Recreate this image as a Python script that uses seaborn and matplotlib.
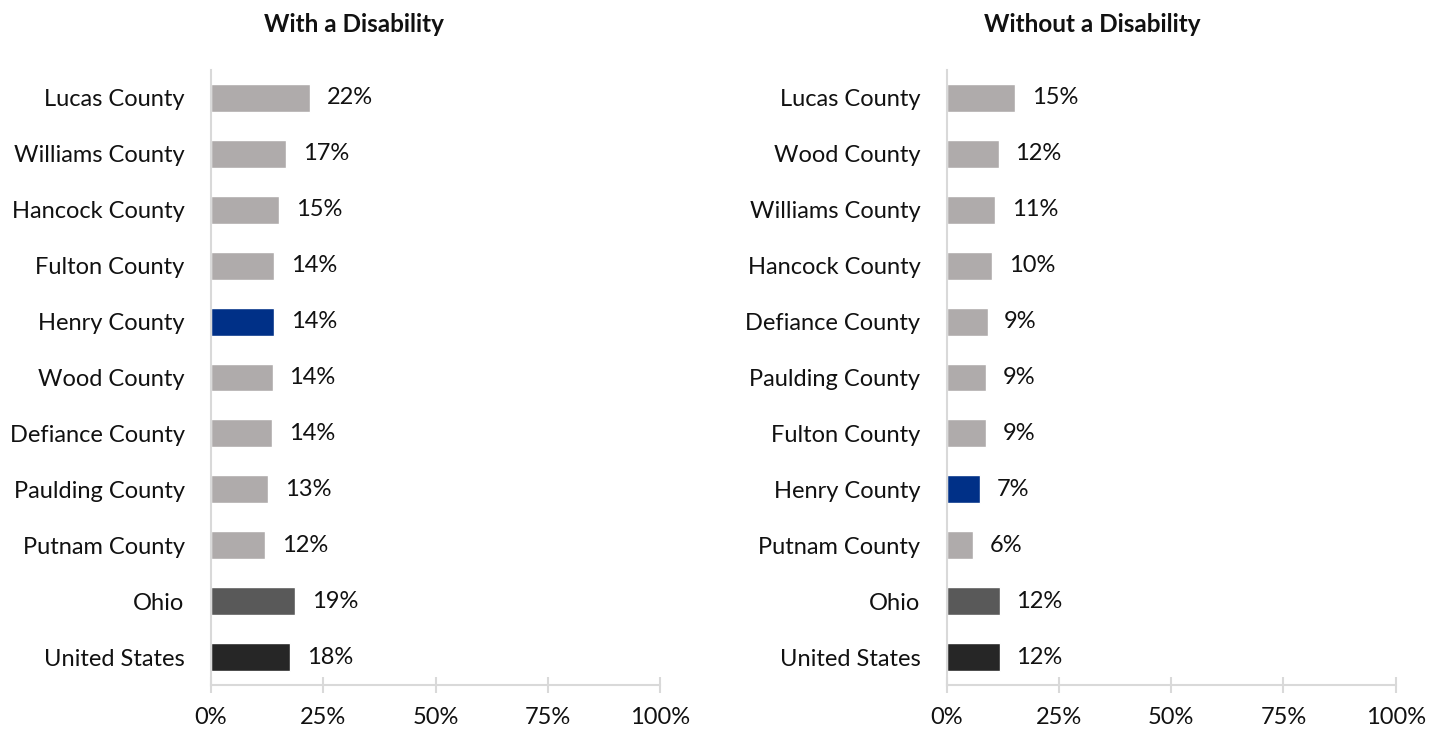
import pandas as pd
import seaborn as sns
import matplotlib.pyplot as plt

# left panel: with a disability
with_places = ['Lucas County', 'Williams County', 'Hancock County', 'Fulton County',
               'Henry County', 'Wood County', 'Defiance County', 'Paulding County',
               'Putnam County', 'Ohio', 'United States']
with_values = [22.0, 16.8, 15.2, 14.1, 14.0, 13.7, 13.6, 12.7, 12.1, 18.7, 17.6]

# right panel: without a disability
without_places = ['Lucas County', 'Wood County', 'Williams County', 'Hancock County',
                  'Defiance County', 'Paulding County', 'Fulton County', 'Henry County',
                  'Putnam County', 'Ohio', 'United States']
without_values = [15.2, 11.6, 10.8, 10.1, 9.1, 8.8, 8.7, 7.4, 5.9, 11.8, 11.8]

x_ticks = [0, 25, 50, 75, 100]
x_tick_labels = ['0%', '25%', '50%', '75%', '100%']

titles = ['With a Disability', 'Without a Disability']

GREY = '#AFABAB'
colors = {p: GREY for p in with_places}
colors['Henry County'] = '#003087'
colors['Ohio'] = '#595959'
colors['United States'] = '#262626'

sns.set_theme(style='white')
plt.rcParams['font.family'] = ['Lato', 'DejaVu Sans']

fig = plt.figure(figsize=(14.42, 7.32), dpi=100)
W, H = 1442, 732
ax_l = fig.add_axes([211 / W, 1 - 685 / H, 449 / W, 615 / H])
ax_r = fig.add_axes([946.7 / W, 1 - 685 / H, 449 / W, 615 / H])


def panel(ax, places, values):
    df = pd.DataFrame({'place': places, 'value': values})
    sns.barplot(data=df, x='value', y='place', hue='place', palette=colors,
                legend=False, width=0.5, orient='h', ax=ax, saturation=1)
    for cont in ax.containers:
        ax.bar_label(cont, labels=[f'{round(b.get_width())}%' for b in cont],
                     padding=12, fontsize=17, color='#111111')
    ax.set_xlim(0, 100)
    ax.set_ylim(10.5, -0.5)
    ax.set_xticks(x_ticks)
    ax.set_xticklabels(x_tick_labels)
    ax.set_xlabel('')
    ax.set_ylabel('')
    for s in ['top', 'right']:
        ax.spines[s].set_visible(False)
    for s in ['left', 'bottom']:
        ax.spines[s].set_color('#D9D9D9')
        ax.spines[s].set_linewidth(1.5)
    ax.tick_params(axis='x', bottom=True, direction='inout', length=11, width=1.5,
                   color='#D9D9D9', labelsize=17, pad=10, labelcolor='#111111')
    ax.tick_params(axis='y', left=False, length=0, labelsize=17, pad=19,
                   labelcolor='#111111')
    ax.grid(False)


panel(ax_l, with_places, with_values)
panel(ax_r, without_places, without_values)

fig.text(354 / W, 1 - 24 / H, titles[0], ha='center', va='center',
         fontsize=17.5, fontweight='bold', color='#111111')
fig.text(1092 / W, 1 - 24 / H, titles[1], ha='center', va='center',
         fontsize=17.5, fontweight='bold', color='#111111')

fig.savefig('out.png', dpi=100, facecolor='white')
